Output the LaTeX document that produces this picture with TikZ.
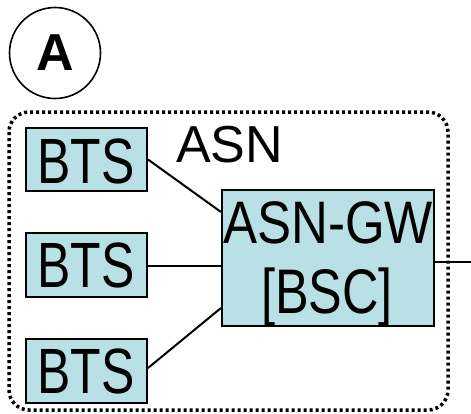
\documentclass[tikz,border=0pt]{standalone}
\usepackage{fontspec}
\setmainfont{Liberation Sans}
\definecolor{boxfill}{RGB}{185,224,228}
\begin{document}
\begin{tikzpicture}[x=1pt,y=-1pt,
  box/.style={draw=black,line width=2pt,fill=boxfill,inner sep=0pt,anchor=north west},
  conn/.style={line width=2pt}]
\useasboundingbox (0,0) rectangle (471,413);
% dotted ASN boundary
\draw[line width=3.5pt,dash pattern=on 3pt off 3pt,rounded corners=20pt] (9,112) rectangle (448,410);
% circle A
\node[draw,circle,line width=1.6pt,minimum size=91pt,inner sep=0pt] (circA) at (55,53) {\fontsize{52}{52}\selectfont\bfseries A};
% label ASN
\node[inner sep=0pt,anchor=base west] (asnlabel) at (176,162) {\fontsize{52}{52}\selectfont ASN};
% BTS boxes
\node[box,minimum width=121pt,minimum height=63pt] (bts1) at (25,127) {};
\node[box,minimum width=121pt,minimum height=64pt] (bts2) at (25,232) {};
\node[box,minimum width=121pt,minimum height=64pt] (bts3) at (25,338) {};
\node[inner sep=0pt,anchor=base] at (86,183) {\scalebox{0.78}[1]{\fontsize{64}{64}\selectfont BTS}};
\node[inner sep=0pt,anchor=base] at (86,287) {\scalebox{0.78}[1]{\fontsize{64}{64}\selectfont BTS}};
\node[inner sep=0pt,anchor=base] at (86,393) {\scalebox{0.78}[1]{\fontsize{64}{64}\selectfont BTS}};
% ASN-GW box
\node[box,minimum width=212pt,minimum height=136pt] (gw) at (221,189) {};
\node[inner sep=0pt,anchor=base] at (328,243) {\scalebox{0.85}[1]{\fontsize{60}{60}\selectfont ASN-GW}};
\node[inner sep=0pt,anchor=base] at (327,313) {\scalebox{0.8}[1]{\fontsize{63}{63}\selectfont [BSC]}};
% connectors
\coordinate (out) at (471,262);
\draw[conn] (bts1.east) -- ([yshift=-23pt]gw.north west);
\draw[conn] ([yshift=-1pt]bts2.east) -- ([yshift=-1pt]bts2.east -| gw.west);
\draw[conn] ([yshift=3pt]bts3.east) -- ([yshift=19pt]gw.south west);
\draw[conn] (gw.east |- out) -- (out);
\end{tikzpicture}
\end{document}
